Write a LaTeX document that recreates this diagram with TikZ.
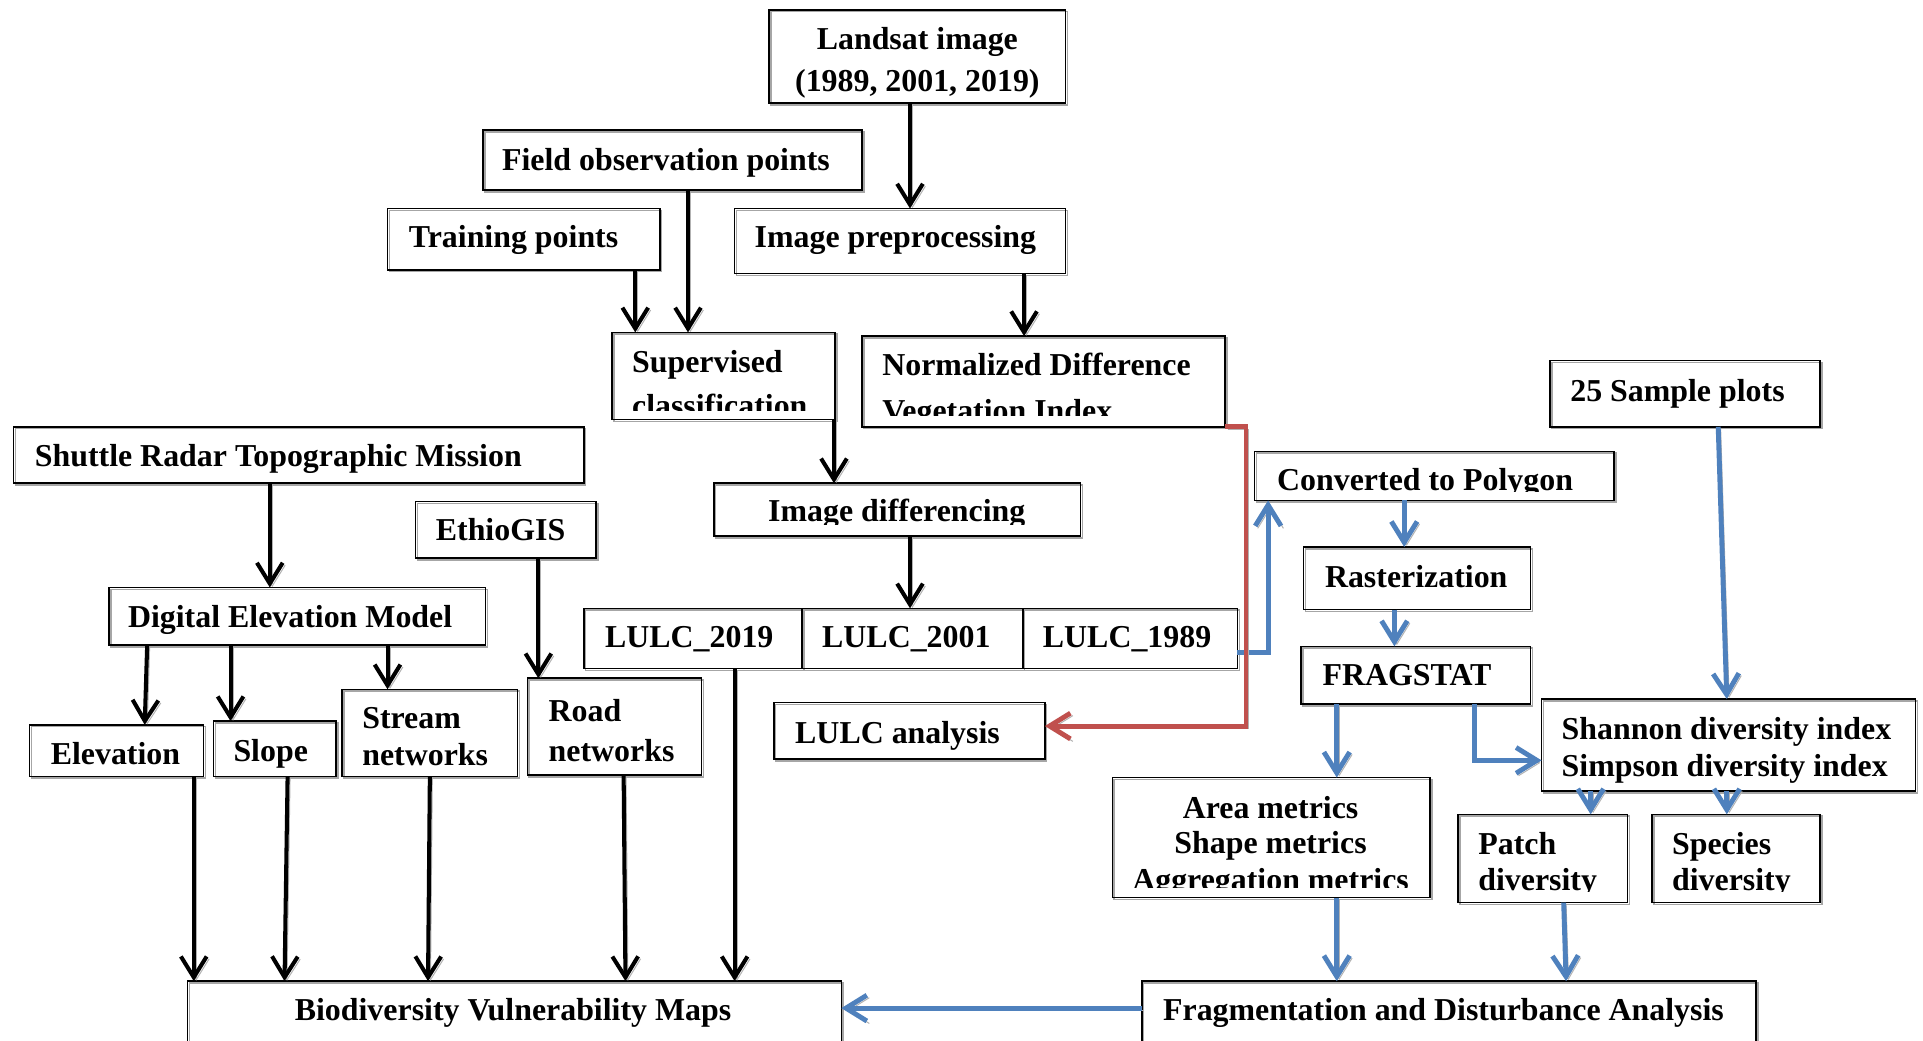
\documentclass[tikz,border=0pt]{standalone}
\usepackage{fontspec}
\setmainfont{Liberation Serif}
\usetikzlibrary{arrows.meta,fit,calc}
\definecolor{bblue}{RGB}{79,129,189}
\definecolor{rred}{RGB}{192,80,77}
\begin{document}
\begin{tikzpicture}[x=0.5pt,y=-0.5pt,
  box/.style={draw, line width=0.6pt, inner sep=0pt, outer sep=0pt, fit={#1},
    preaction={draw=black!35, transform canvas={shift={(1.5,1.5)}}}},
  txt/.style={font=\fontsize{13}{15}\selectfont\bfseries, inner sep=0pt, anchor=base west},
  ctxt/.style={txt, anchor=base},
  karr/.style={line width=1.65pt, -{Straight Barb[length=8.5pt,width=10.5pt]},
    preaction={draw=black!30, transform canvas={shift={(2,2)}}}},
  barr/.style={draw=bblue, line width=2pt, -{Straight Barb[length=8.5pt,width=10.5pt]},
    preaction={draw=black!30, transform canvas={shift={(2,2)}}}},
  rarr/.style={draw=rred, line width=2pt, -{Straight Barb[length=8.5pt,width=10.5pt]},
    preaction={draw=black!30, transform canvas={shift={(2,2)}}}}]
\useasboundingbox (0,0) rectangle (1568,848);
\fill[white] (0,0) rectangle (1568,848);

% boxes
\node[box={(627,8) (869,84)}] (land) {};
\node[box={(394,106) (703,155)}] (field) {};
\node[box={(316,170) (538,220)}] (train) {};
\node[box={(599,170) (869,223)}] (prep) {};
\node[box={(499,271) (681,342)}] (sup) {};
\node[box={(703,274) (999,348)}] (ndvi) {};
\node[box={(11,348) (476,394)}] (srtm) {};
\node[box={(339,409) (486,455)}] (ethio) {};
\node[box={(582,394) (881,437)}] (diff) {};
\node[box={(89,479) (396,526)}] (dem) {};
\node[box={(24,591) (166,633)}] (elev) {};
\node[box={(174,588) (274,633)}] (slope) {};
\node[box={(279,562) (422,633)}] (stream) {};
\node[box={(430,553) (572,632)}] (road) {};
\node[box={(476,496) (654,545)}] (l19) {};
\node[box={(654,496) (834,545)}] (l01) {};
\node[box={(834,496) (1009,545)}] (l89) {};
\node[box={(631,573) (852,619)}] (lan) {};
\node[box={(153,800) (686,870)}] (bvm) {};
\node[box={(1023,368) (1316,408)}] (conv) {};
\node[box={(1063,446) (1248,497)}] (rast) {};
\node[box={(1061,527) (1248,574)}] (frag) {};
\node[box={(1264,294) (1484,348)}] (samp) {};
\node[box={(1257,570) (1562,645)}] (shan) {};
\node[box={(907,634) (1166,732)}] (area) {};
\node[box={(1189,664) (1327,736)}] (patch) {};
\node[box={(1347,664) (1484,736)}] (spec) {};
\node[box={(931,800) (1432,870)}] (fda) {};

% texts
\node[ctxt] (tland1) at (748,40) {Landsat image};
\node[ctxt] (tland2) at (748,75) {(1989, 2001, 2019)};
\node[txt] (tfield) at (409,139) {Field observation points};
\node[txt] (ttrain) at (333,202) {Training points};
\node[txt] (tprep) at (615,202) {Image preprocessing};
\node[txt] (tsup1) at (515,304) {Supervised};
\begin{scope}
  \clip (499,271) rectangle (681,334.5);
  \node[txt] (tsup2) at (515,340) {classification};
\end{scope}
\node[txt] (tndvi1) at (719,306) {Normalized Difference};
\begin{scope}
  \clip (703,274) rectangle (999,338.5);
  \node[txt] (tndvi2) at (719,344) {Vegetation Index};
\end{scope}
\node[txt] (tsrtm) at (28,380) {Shuttle Radar Topographic Mission};
\node[txt] (tethio) at (355,441) {EthioGIS};
\begin{scope}
  \clip (582,394) rectangle (881,428);
  \node[txt] (tdiff) at (626,425) {Image differencing};
\end{scope}
\node[txt] (tdem) at (104,512) {Digital Elevation Model};
\node[txt] (telev) at (41,623) {Elevation};
\node[txt] (tslope) at (190,621) {Slope};
\node[txt] (tstream1) at (295,594) {Stream};
\node[txt] (tstream2) at (295,624) {networks};
\node[txt] (troad1) at (447,588) {Road};
\node[txt] (troad2) at (447,621) {networks};
\node[txt] (tl19) at (493,528) {LULC\_2019};
\node[txt] (tl01) at (670,528) {LULC\_2001};
\node[txt] (tl89) at (850,528) {LULC\_1989};
\node[txt] (tlan) at (648,606) {LULC analysis};
\node[txt] (tbvm) at (240,832) {Biodiversity Vulnerability Maps};
\begin{scope}
  \clip (1023,368) rectangle (1316,401);
  \node[txt] (tconv) at (1041,400) {Converted to Polygon};
\end{scope}
\node[txt] (trast) at (1080,479) {Rasterization};
\node[txt] (tfrag) at (1078,559) {FRAGSTAT};
\node[txt] (tsamp) at (1280,327) {25 Sample plots};
\node[txt] (tshan1) at (1273,603) {Shannon diversity index};
\node[txt] (tshan2) at (1273,633) {Simpson diversity index};
\node[ctxt] (tarea1) at (1036,667) {Area metrics};
\node[ctxt] (tarea2) at (1036,696) {Shape metrics};
\begin{scope}
  \clip (907,634) rectangle (1166,723.5);
  \node[ctxt] (tarea3) at (1036,726) {Aggregation metrics};
\end{scope}
\node[txt] (tpatch1) at (1205,697) {Patch};
\node[txt] (tspec1) at (1363,697) {Species};
\begin{scope}
  \clip (1189,664) rectangle (1484,727);
  \node[txt] (tpatch2) at (1205,726) {diversity};
  \node[txt] (tspec2) at (1363,726) {diversity};
\end{scope}
\node[txt] (tfda) at (948,832) {Fragmentation and Disturbance Analysis};

% black connectors
\draw[karr] (742,0 |- land.south) -- (742,0 |- prep.north);
\draw[karr] (561,0 |- field.south) -- (561,0 |- sup.north);
\draw[karr] (518,0 |- train.south) -- (518,0 |- sup.north);
\draw[karr] (835,0 |- prep.south) -- (835,0 |- ndvi.north);
\draw[karr] (680,0 |- sup.south) -- (680,0 |- diff.north);
\draw[karr] (742,0 |- diff.south) -- (742,0 |- l01.north);
\draw[karr] (220,0 |- srtm.south) -- (220,0 |- dem.north);
\draw[karr] (120,0 |- dem.south) -- (118,0 |- elev.north);
\draw[karr] (188,0 |- dem.south) -- (188,0 |- slope.north);
\draw[karr] (316,0 |- dem.south) -- (316,0 |- stream.north);
\draw[karr] (439,0 |- ethio.south) -- (439,0 |- road.north);
\draw[karr] (158,0 |- elev.south) -- (158,0 |- bvm.north);
\draw[karr] (234.5,0 |- slope.south) -- (232,0 |- bvm.north);
\draw[karr] (350.5,0 |- stream.south) -- (349,0 |- bvm.north);
\draw[karr] (508.5,0 |- road.south) -- (510,0 |- bvm.north);
\draw[karr] (599,0 |- l19.south) -- (599,0 |- bvm.north);

% blue connectors
\draw[barr] (l89.east |- 0,532) -| (1034,0 |- conv.south);
\draw[barr] (1145,0 |- conv.south) -- (1145,0 |- rast.north);
\draw[barr] (1137,0 |- rast.south) -- (1137,0 |- frag.north);
\draw[barr] (1090,0 |- frag.south) -- (1090,0 |- area.north);
\draw[barr] (1202,0 |- frag.south) |- (shan.west |- 0,620);
\draw[barr] (1401,0 |- samp.south) -- (1408,0 |- shan.north);
\draw[barr] (1297,0 |- shan.south) -- (1297,0 |- patch.north);
\draw[barr] (1408,0 |- shan.south) -- (1408,0 |- spec.north);
\draw[barr] (1090,0 |- area.south) -- (1090,0 |- fda.north);
\draw[barr] (1275,0 |- patch.south) -- (1277,0 |- fda.north);
\draw[barr] (fda.west |- 0,822) -- (bvm.east |- 0,822);

% red connector
\draw[rarr] (ndvi.south east) -- (1016,0 |- ndvi.south east) |- (lan.east |- 0,592);
\end{tikzpicture}
\end{document}
